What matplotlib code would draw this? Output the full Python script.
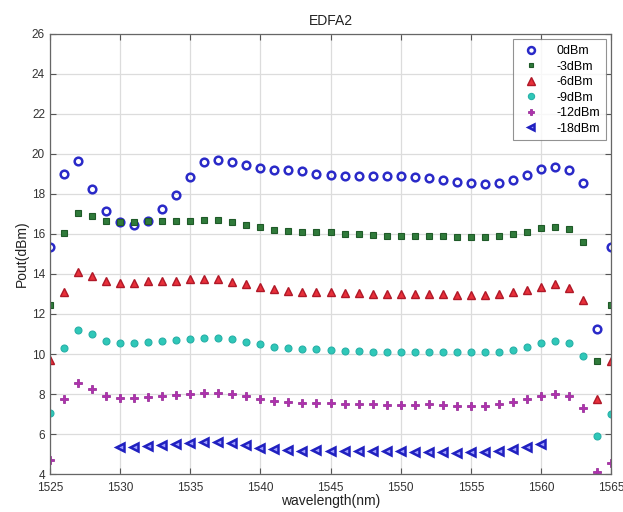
import numpy as np
import matplotlib
matplotlib.use("Agg")
import matplotlib.pyplot as plt

wavelength = np.arange(1525, 1566)          # 1525 ... 1565 nm, 1 nm step
wavelength_18 = np.arange(1530, 1561)       # -18 dBm measured 1530 ... 1560 nm

p_0dbm = [15.37, 18.98, 19.65, 18.25, 17.17, 16.58, 16.43, 16.65, 17.23, 17.95,
          18.83, 19.58, 19.70, 19.60, 19.45, 19.28, 19.20, 19.17, 19.12, 19.00,
          18.95, 18.90, 18.87, 18.87, 18.87, 18.87, 18.83, 18.78, 18.70, 18.60,
          18.53, 18.50, 18.53, 18.70, 18.95, 19.23, 19.32, 19.17, 18.57, 11.25,
          15.37]
p_m3dbm = [12.45, 16.03, 17.03, 16.92, 16.67, 16.62, 16.60, 16.67, 16.67, 16.67,
           16.67, 16.68, 16.68, 16.62, 16.45, 16.33, 16.20, 16.15, 16.12, 16.08,
           16.08, 16.00, 16.00, 15.95, 15.92, 15.92, 15.92, 15.92, 15.90, 15.87,
           15.87, 15.87, 15.90, 15.98, 16.10, 16.28, 16.37, 16.23, 15.62, 9.65,
           12.45]
p_m6dbm = [9.70, 13.12, 14.08, 13.90, 13.65, 13.57, 13.57, 13.65, 13.65, 13.67,
           13.73, 13.73, 13.73, 13.62, 13.50, 13.37, 13.23, 13.17, 13.12, 13.12,
           13.08, 13.03, 13.03, 13.00, 13.00, 13.00, 13.00, 13.00, 13.00, 12.95,
           12.95, 12.95, 13.00, 13.08, 13.20, 13.37, 13.48, 13.32, 12.70, 7.73,
           9.65]
p_m9dbm = [7.03, 10.28, 11.20, 10.98, 10.67, 10.57, 10.57, 10.62, 10.67, 10.70,
           10.75, 10.78, 10.78, 10.73, 10.62, 10.48, 10.33, 10.28, 10.25, 10.23,
           10.20, 10.17, 10.15, 10.12, 10.12, 10.12, 10.12, 10.12, 10.10, 10.10,
           10.08, 10.10, 10.12, 10.20, 10.37, 10.53, 10.65, 10.53, 9.90, 5.90,
           6.98]
p_m12dbm = [4.70, 7.73, 8.53, 8.23, 7.92, 7.82, 7.82, 7.87, 7.92, 7.95,
            8.00, 8.07, 8.07, 8.00, 7.90, 7.73, 7.67, 7.58, 7.57, 7.55,
            7.53, 7.50, 7.48, 7.48, 7.45, 7.45, 7.45, 7.48, 7.45, 7.42,
            7.42, 7.42, 7.48, 7.58, 7.73, 7.92, 7.98, 7.90, 7.32, 4.12,
            4.57]
p_m18dbm = [5.33, 5.33, 5.40, 5.45, 5.50, 5.57, 5.62, 5.62, 5.53, 5.45,
            5.32, 5.25, 5.20, 5.17, 5.18, 5.17, 5.17, 5.15, 5.15, 5.15,
            5.15, 5.12, 5.12, 5.12, 5.07, 5.08, 5.12, 5.17, 5.25, 5.37,
            5.50]

labels = ["0dBm", "-3dBm", "-6dBm", "-9dBm", "-12dBm", "-18dBm"]
x_ticks = [1525, 1530, 1535, 1540, 1545, 1550, 1555, 1560, 1565]
y_ticks = [4, 6, 8, 10, 12, 14, 16, 18, 20, 22, 24, 26]

plt.rcParams["font.family"] = ["Liberation Sans", "DejaVu Sans"]

fig = plt.figure(figsize=(6.23, 5.12), dpi=100)
ax = fig.add_axes([0.080, 0.074, 0.901, 0.860])

ax.plot(wavelength, p_0dbm, ls="none", marker="o", ms=5.5, mfc="none",
        mec="#2a2ac8", mew=1.8, label=labels[0])
ax.plot(wavelength, p_m3dbm, ls="none", marker="s", ms=3.8, mfc="#2f7a3a",
        mec="#1f5a28", mew=0.8, label=labels[1])
ax.plot(wavelength, p_m6dbm, ls="none", marker="^", ms=6, mfc="#e8303a",
        mec="#b01828", mew=1.0, label=labels[2])
ax.plot(wavelength, p_m9dbm, ls="none", marker="o", ms=5, mfc="#2fc8b8",
        mec="#28b0a8", mew=0.8, label=labels[3])
ax.plot(wavelength, p_m12dbm, ls="none", marker="P", ms=5.5, mfc="#b030b0",
        mec="#902090", mew=0.5, label=labels[4])
ax.plot(wavelength_18, p_m18dbm, ls="none", marker="<", ms=5.5, mfc="#a0a0ff",
        mec="#2020c0", mew=1.8, label=labels[5])

ax.set_xlim(1525, 1565)
ax.set_ylim(4, 26)
ax.set_xticks(x_ticks)
ax.set_yticks(y_ticks)
ax.tick_params(direction="in", top=True, right=True, labelsize=8.5,
               length=4, color="#555555", labelcolor="#333333")
ax.tick_params(axis="x", pad=6)
ax.grid(True, color="#dcdcdc", lw=0.9)
for s in ax.spines.values():
    s.set_color("#666666")
    s.set_linewidth(0.9)

ax.set_title("EDFA2", fontsize=10, color="#222222", pad=6)
ax.set_xlabel("wavelength(nm)", fontsize=10, color="#222222", labelpad=0)
ax.set_ylabel("Pout(dBm)", fontsize=10, color="#222222", labelpad=2)

leg = ax.legend(loc="upper right", fontsize=9, frameon=True, fancybox=False,
                edgecolor="#777777", borderpad=0.45, labelspacing=0.28,
                handletextpad=1.0, borderaxespad=0.45, markerscale=0.9,
                handlelength=2.0)
leg.get_frame().set_linewidth(0.8)

fig.savefig("out.png", dpi=100)
